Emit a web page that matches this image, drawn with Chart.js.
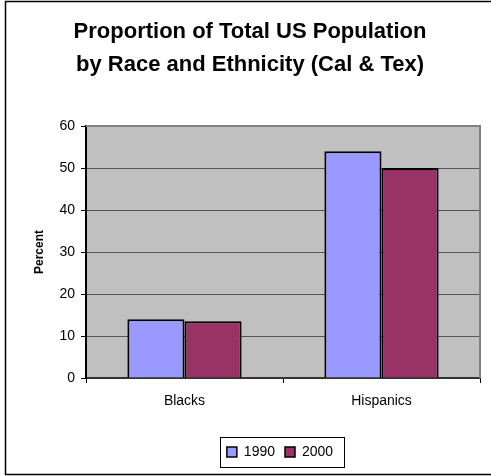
<!DOCTYPE html>
<html>
<head>
<meta charset="utf-8">
<script src="https://cdn.jsdelivr.net/npm/chart.js@4"></script>
<style>
  html, body { margin: 0; padding: 0; background: #fff; }
  #wrap { width: 491px; height: 476px; }
</style>
</head>
<body>
<div id="wrap"><canvas id="c" width="491" height="476"></canvas></div>
<script>
// Chart data
const categories = ['Blacks', 'Hispanics'];
const seriesNames = ['1990', '2000'];
const values1990 = [14, 54];
const values2000 = [13.5, 50];
const yTickValues = [0, 10, 20, 30, 40, 50, 60];
const titleLines = ['Proportion of Total US Population', 'by Race and Ethnicity (Cal & Tex)'];
const yAxisTitle = 'Percent';

const FONT = 'Arial, "Liberation Sans", sans-serif';

// Grey plot background, frame around the whole figure, box around the legend
const framePlugin = {
  id: 'framePlugin',
  afterLayout(chart) {
    // keep the legend centred under the plot area rather than the whole canvas
    const lg = chart.legend;
    const a = chart.chartArea;
    if (!lg) return;
    const d = Math.round((a.left + a.right) / 2 - 3 - (lg.left + lg.right) / 2);
    lg.left += d;
    lg.right += d;
  },
  beforeDraw(chart) {
    const { ctx, chartArea: a, width, height } = chart;
    ctx.save();
    ctx.fillStyle = '#ffffff';
    ctx.fillRect(0, 0, width, height);
    ctx.fillStyle = '#c0c0c0';
    ctx.fillRect(a.left, a.top, a.right - a.left, a.bottom - a.top);
    ctx.strokeStyle = '#000';
    ctx.lineWidth = 1.5;
    ctx.strokeRect(5.5, 1.5, width + 10, height - 3);
    ctx.restore();
  },
  afterDatasetsDraw(chart) {
    const { ctx, chartArea: a } = chart;
    ctx.save();
    ctx.strokeStyle = '#808080';
    ctx.lineWidth = 2;
    ctx.beginPath();
    ctx.moveTo(a.left, a.top);
    ctx.lineTo(a.right, a.top);
    ctx.lineTo(a.right, a.bottom);
    ctx.stroke();
    ctx.restore();
  },
  afterDraw(chart) {
    const boxes = chart.legend && chart.legend.legendHitBoxes;
    if (!boxes || !boxes.length) return;
    const { ctx } = chart;
    let l = Infinity, r = -Infinity, t = Infinity, b = -Infinity;
    boxes.forEach(h => {
      l = Math.min(l, h.left); r = Math.max(r, h.left + h.width);
      t = Math.min(t, h.top); b = Math.max(b, h.top + h.height);
    });
    ctx.save();
    ctx.strokeStyle = '#000';
    ctx.lineWidth = 1;
    ctx.strokeRect(Math.round(l - 7) + 0.5, Math.round(t - 8) + 0.5, Math.round(r - l + 18), Math.round(b - t + 16));
    ctx.restore();
  }
};

new Chart(document.getElementById('c'), {
  type: 'bar',
  data: {
    labels: categories,
    datasets: [
      { label: seriesNames[0], data: values1990, backgroundColor: '#9999ff', borderColor: '#000', borderWidth: 2, borderSkipped: 'bottom' },
      { label: seriesNames[1], data: values2000, backgroundColor: '#993366', borderColor: '#000', borderWidth: 2, borderSkipped: 'bottom' }
    ]
  },
  options: {
    responsive: false,
    animation: false,
    devicePixelRatio: 1,
    layout: { padding: { left: 20, right: 11, top: 0, bottom: 7 } },
    datasets: { bar: { categoryPercentage: 0.58, barPercentage: 1.0 } },
    plugins: {
      title: {
        display: true,
        text: titleLines,
        color: '#000',
        font: { family: FONT, size: 22, weight: 'bold', lineHeight: 1.5 },
        padding: { top: 15.5, bottom: 44.5 }
      },
      legend: {
        position: 'bottom',
        labels: {
          color: '#000',
          font: { family: FONT, size: 14 },
          boxWidth: 10,
          boxHeight: 10,
          padding: 10,
          generateLabels(chart) {
            return chart.data.datasets.map((ds, i) => ({
              text: ds.label,
              fillStyle: ds.backgroundColor,
              strokeStyle: '#000',
              lineWidth: 1.5,
              datasetIndex: i,
              hidden: false
            }));
          }
        }
      },
      tooltip: { enabled: false }
    },
    scales: {
      x: {
        grid: { offset: true, drawOnChartArea: false, drawTicks: true, tickLength: 5, color: '#000' },
        border: { color: '#333', width: 2 },
        ticks: { color: '#000', font: { family: FONT, size: 14 }, padding: 10 },
        afterFit(scale) { scale.height = 57; }
      },
      y: {
        min: 0,
        max: 60,
        afterBuildTicks(scale) { scale.ticks = yTickValues.map(v => ({ value: v })); },
        grid: { color: '#555', lineWidth: 1, tickLength: 5, tickColor: '#000' },
        border: { color: '#000', width: 2 },
        ticks: { color: '#000', font: { family: FONT, size: 14 }, padding: 6 },
        title: {
          display: true,
          text: yAxisTitle,
          color: '#000',
          font: { family: FONT, size: 12, weight: 'bold' },
          padding: { top: 12, bottom: 0 }
        },
        afterFit(scale) { scale.width = 66; }
      }
    }
  },
  plugins: [framePlugin]
});
</script>
</body>
</html>
